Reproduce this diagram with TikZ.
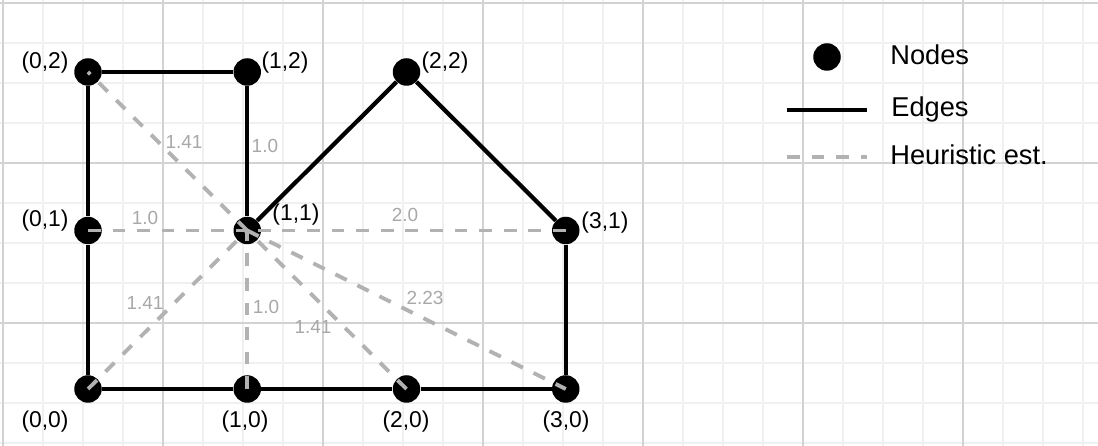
\documentclass[tikz,border=0pt]{standalone}
\usepackage{fontspec}
\setmainfont{Liberation Sans}
\usetikzlibrary{positioning}
\definecolor{gridminor}{HTML}{F0F0F0}
\definecolor{gridmajor}{HTML}{D2D2D2}
\definecolor{estgray}{HTML}{B2B2B2}
\definecolor{estlabelgray}{HTML}{A8A8A8}
\tikzset{
    vertex/.style = {circle, fill = black, inner sep = 0pt, minimum size = 0.55cm},
    edge/.style = {line width = 2.4pt},
    est/.style = {line width = 2.2pt, estgray, dash pattern = on 7.2pt off 6.8pt},
    coordlabel/.style = {font = \fontsize{13}{15}\selectfont, inner sep = 0pt},
    estlabel/.style = {font = \fontsize{10.8}{12}\selectfont, text = estlabelgray, inner sep = 0pt},
    legendtext/.style = {font = \fontsize{15.5}{18}\selectfont, inner sep = 0pt, anchor = base west}
}
\begin{document}
\begin{tikzpicture}
    \useasboundingbox (0,0) rectangle (21.96,8.92);
    % grid
    \begin{scope}
        \foreach \k in {0, ..., 27}
            \draw[line width = 1.1pt, gridminor] (0.06+0.8*\k,0) -- (0.06+0.8*\k,8.92);
        \foreach \k in {0, ..., 11}
            \draw[line width = 1.1pt, gridminor] (0,0.06+0.8*\k) -- (21.96,0.06+0.8*\k);
        \foreach \k in {0, ..., 6}
            \draw[line width = 0.8pt, gridmajor] (0.06+3.2*\k,0) -- (0.06+3.2*\k,8.92);
        \foreach \k in {0, 1, 2}
            \draw[line width = 0.8pt, gridmajor] (0,2.46+3.2*\k) -- (21.96,2.46+3.2*\k);
    \end{scope}
    % graph
    \begin{scope}[shift = {(1.76,1.14)}, x = 3.185cm, y = 3.17cm]
        \node[vertex] (n00) at (0,0) {};
        \node[vertex] (n10) at (1,0) {};
        \node[vertex] (n20) at (2,0) {};
        \node[vertex] (n30) at (3,0) {};
        \node[vertex] (n01) at (0,1) {};
        \node[vertex] (n11) at (1,1) {};
        \node[vertex] (n31) at (3,1) {};
        \node[vertex] (n02) at (0,2) {};
        \node[vertex] (n12) at (1,2) {};
        \node[vertex] (n22) at (2,2) {};
        \draw[edge] (n02) -- (n12);
        \draw[edge] (n02) -- (n01);
        \draw[edge] (n01) -- (n00);
        \draw[edge] (n12) -- (n11);
        \draw[edge] (n11) -- (n22);
        \draw[edge] (n22) -- (n31);
        \draw[edge] (n31) -- (n30);
        \draw[edge] (n00) -- (n10);
        \draw[edge] (n10) -- (n20);
        \draw[edge] (n20) -- (n30);
        % heuristic estimates from (1,1)
        \foreach \t in {n01, n31, n00, n10, n20}
            \draw[est] (\t.center) -- (n11.center);
        \draw[est] (n11.center) -- (n02.center);
        \draw[est] (n11.center) -- (n30.center);
        \node[coordlabel] (l00) at (-0.270,-0.208) {(0,0)};
        \node[coordlabel] (l10) at (0.986,-0.208) {(1,0)};
        \node[coordlabel] (l20) at (1.997,-0.208) {(2,0)};
        \node[coordlabel] (l30) at (3.002,-0.208) {(3,0)};
        \node[coordlabel] (l01) at (-0.270,1.060) {(0,1)};
        \node[coordlabel] (l11) at (1.306,1.098) {(1,1)};
        \node[coordlabel] (l31) at (3.246,1.047) {(3,1)};
        \node[coordlabel] (l02) at (-0.270,2.057) {(0,2)};
        \node[coordlabel] (l12) at (1.237,2.057) {(1,2)};
        \node[coordlabel] (l22) at (2.242,2.057) {(2,2)};
        \node[estlabel] (h02) at (0.603,1.558) {1.41};
        \node[estlabel] (h12) at (1.111,1.533) {1.0};
        \node[estlabel] (h01) at (0.358,1.079) {1.0};
        \node[estlabel] (h31) at (1.991,1.098) {2.0};
        \node[estlabel] (h00) at (0.358,0.543) {1.41};
        \node[estlabel] (h10) at (1.118,0.517) {1.0};
        \node[estlabel] (h20) at (1.413,0.391) {1.41};
        \node[estlabel] (h30) at (2.116,0.574) {2.23};
    \end{scope}
    % legend
    \node[vertex] (keynode) at (16.54,7.78) {};
    \node[legendtext] (keynodetext) at (17.80,7.62) {Nodes};
    \coordinate (keyedgeA) at (15.74,6.72);
    \coordinate (keyedgeB) at (17.34,6.72);
    \draw[edge] (keyedgeA) -- (keyedgeB);
    \node[legendtext] (keyedgetext) at (17.82,6.58) {Edges};
    \coordinate (keyestA) at (15.74,5.78);
    \coordinate (keyestB) at (17.34,5.78);
    \draw[est] (keyestA) -- (keyestB);
    \node[legendtext] (keyesttext) at (17.80,5.62) {Heuristic est.};
\end{tikzpicture}
\end{document}
